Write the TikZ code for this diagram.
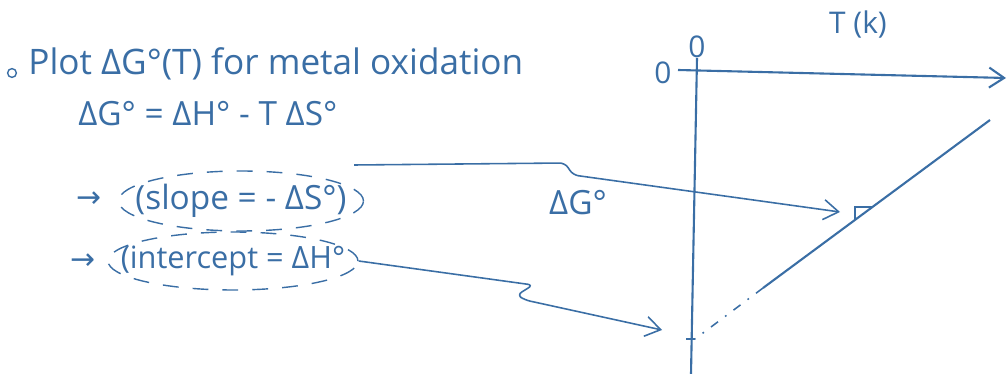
\documentclass[tikz,border=0pt]{standalone}
\usepackage{fontspec}
\setmainfont{Open Sans}
\newfontfamily\symfont{DejaVu Sans}
\usetikzlibrary{arrows.meta,shapes.geometric,calc}
\definecolor{ink}{HTML}{3A6EA5}
\tikzset{
  hand/.style={text=ink, inner sep=0pt, font=\fontsize{17}{20}\selectfont},
  big/.style={hand, font=\fontsize{19}{22}\selectfont},
  title/.style={hand, font=\fontsize{20}{24}\selectfont},
  oval/.style={ellipse, draw=ink, dash pattern=on 9pt off 8pt,
               line width=0.8pt, inner sep=0pt},
  axis/.style={draw=ink, line width=1.2pt},
  link/.style={draw=ink, line width=0.9pt, rounded corners=3pt,
               -{Straight Barb[length=3mm, width=4mm]}},
}

\begin{document}
\begin{tikzpicture}[x=0.02cm, y=-0.02cm]
  \useasboundingbox (0,0) rectangle (1007,374);

  % notes
  \node[circle, draw=ink, line width=0.8pt, minimum size=5pt, inner sep=0pt] (dot) at (12,73) {};
  \node[title, anchor=base west] (plot) at (28,75) {Plot ΔG°(T) for metal oxidation};
  \node[big, anchor=base west] (gibbs) at (78,126) {ΔG° = ΔH° - T ΔS°};

  \node[oval, minimum width=4.9cm, minimum height=1.2cm] (slopering) at (241,201) {};
  \node[big] (slope) at (slopering.center) {(slope = - ΔS°)};
  \node[hand, anchor=east, font=\symfont\fontsize{17}{20}\selectfont] (go1) at (102,200) {→};

  \node[oval, minimum width=5cm, minimum height=1.16cm] (interring) at (233,261) {};
  \node[hand, font=\fontsize{17.5}{20}\selectfont] (inter) at (interring.center) {(intercept = ΔH°};
  \node[hand, anchor=east, font=\symfont\fontsize{17}{20}\selectfont] (go2) at (96,262) {→};

  % plot
  \coordinate (ytop)   at (697,58);
  \coordinate (ybot)   at (691,374);
  \coordinate (xleft)  at (678,70);
  \coordinate (xright) at (1006,78);
  \draw[axis] (ytop) -- (ybot);
  \draw[axis, -{Straight Barb[length=3mm, width=4mm]}] (xleft) -- (xright);

  \node[hand] (zeroy) at (663,73) {0};
  \node[hand] (zerox) at (697,47) {0};
  \node[hand] (taxis) at (858,25) {T (k)};
  \node[big] (gaxis) at (578,203) {ΔG°};

  \coordinate (lineend)   at (990,120);
  \coordinate (linestart) at (763,288);
  \coordinate (icept)     at (695,339);
  \draw[axis] (linestart) -- (lineend);
  \draw[ink, line width=0.9pt, dash pattern=on 5pt off 5pt on 1pt off 5pt] (linestart) -- (icept);
  \draw[axis] (icept) -- ++(-9,0);

  % slope mark
  \coordinate (markbot) at (855,220);
  \coordinate (markcor) at (855,207);
  \coordinate (marktop) at (873,207);
  \draw[ink, line width=1pt] (markbot) -- (markcor) -- (marktop);

  \coordinate (slopeat) at (840,212);
  \coordinate (iceptat) at (662,330);
  \draw[link] ([shift={(-10,-36)}]slopering.east) -- (565,163) -- (573,175) -- (slopeat);
  \draw[link] (interring.east) -- (533,285) -- (517,295) -- (525,300) -- (iceptat);
\end{tikzpicture}
\end{document}
